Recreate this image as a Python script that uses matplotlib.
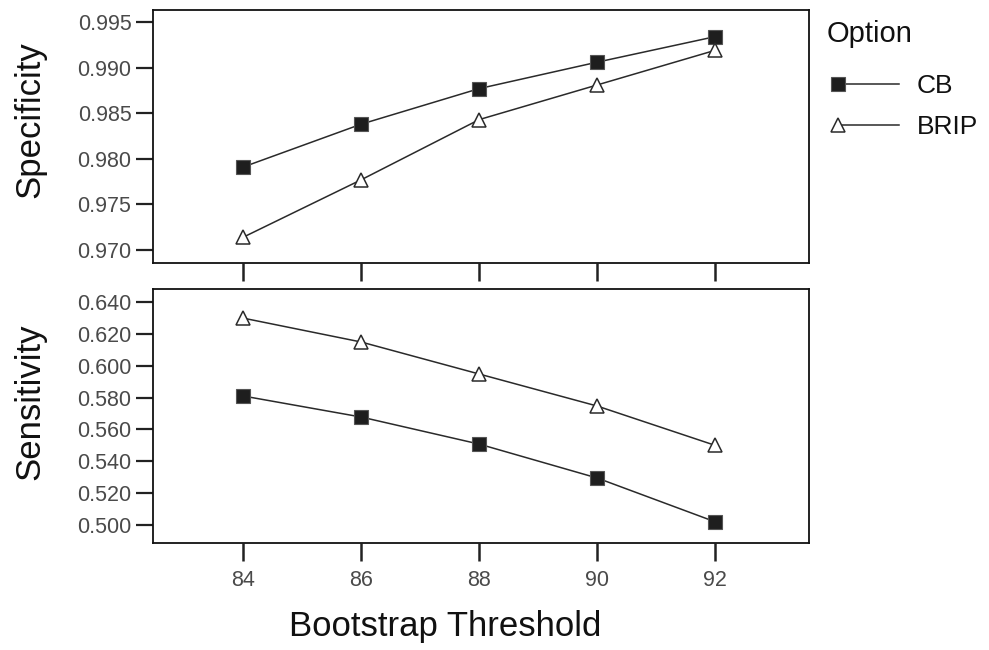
import matplotlib
matplotlib.use("Agg")
import matplotlib.pyplot as plt
from matplotlib.legend_handler import HandlerLine2D

# Bootstrap threshold levels
thresholds = [84, 86, 88, 90, 92]

# Specificity per option
spec_cb = [0.9791, 0.9838, 0.9877, 0.9906, 0.9934]
spec_brip = [0.9714, 0.9777, 0.9843, 0.9881, 0.9919]

# Sensitivity per option
sens_cb = [0.5810, 0.5678, 0.5508, 0.5295, 0.5020]
sens_brip = [0.6299, 0.6149, 0.5948, 0.5747, 0.5500]

spec_ticks = [0.970, 0.975, 0.980, 0.985, 0.990, 0.995]
sens_ticks = [0.500, 0.520, 0.540, 0.560, 0.580, 0.600, 0.620, 0.640]

FONT = "Liberation Sans"
LINE_C = "#2a2a2a"
TICK_C = "#4a4a4a"

plt.rcParams["font.family"] = [FONT, "DejaVu Sans"]

fig = plt.figure(figsize=(9.89, 6.5), dpi=100)
ax_top = fig.add_axes([0.1547, 0.5954, 0.6633, 0.3892])
ax_bot = fig.add_axes([0.1547, 0.1646, 0.6633, 0.3908])

cb_style = dict(color=LINE_C, lw=1.1, marker="s", ms=10,
                markerfacecolor="#1e1e1e", markeredgecolor="#555555", mew=0.8)
brip_style = dict(color=LINE_C, lw=1.1, marker="^", ms=10,
                  markerfacecolor="white", markeredgecolor="#2a2a2a", mew=1.1)

l_cb, = ax_top.plot(thresholds, spec_cb, label="CB", **cb_style)
l_brip, = ax_top.plot(thresholds, spec_brip, label="BRIP", **brip_style)
ax_bot.plot(thresholds, sens_cb, **cb_style)
ax_bot.plot(thresholds, sens_brip, **brip_style)

for ax in (ax_top, ax_bot):
    ax.set_xlim(82.47, 93.59)
    ax.set_xticks(thresholds)
    for s in ax.spines.values():
        s.set_linewidth(1.3)
        s.set_color("#111111")
    ax.tick_params(axis="y", direction="out", length=12.5, width=1.6,
                   color="#222222", pad=3, labelsize=15.5, labelcolor=TICK_C)
    ax.tick_params(axis="x", direction="out", length=13, width=1.8,
                   color="#222222", pad=6.5, labelsize=15.5, labelcolor=TICK_C)

ax_top.set_ylim(0.96857, 0.99632)
ax_top.set_yticks(spec_ticks)
ax_top.set_yticklabels([f"{t:.3f}" for t in spec_ticks])
ax_top.tick_params(axis="x", labelbottom=False)

ax_bot.set_ylim(0.4887, 0.6482)
ax_bot.set_yticks(sens_ticks)
ax_bot.set_yticklabels([f"{t:.3f}" for t in sens_ticks])
ax_bot.set_xticklabels([str(t) for t in thresholds])

ax_top.set_ylabel("Specificity", fontsize=25, color="#111111")
ax_top.yaxis.set_label_coords(-0.162, 0.565)
ax_bot.set_ylabel("Sensitivity", fontsize=25, color="#111111")
ax_bot.yaxis.set_label_coords(-0.162, 0.555)
ax_bot.set_xlabel("Bootstrap Threshold", fontsize=25, color="#111111")
ax_bot.xaxis.set_label_coords(0.445, -0.264)


class LeftMarkerHandler(HandlerLine2D):
    """Draws the legend marker at the left end of the sample line."""

    def create_artists(self, legend, orig_handle, xdescent, ydescent,
                       width, height, fontsize, trans):
        artists = super().create_artists(legend, orig_handle, xdescent,
                                         ydescent, width, height, fontsize, trans)
        for a in artists:
            a.set_markevery([0])
        return artists


fig.text(827 / 989, 1 - 42 / 650, "Option", fontsize=21, color="#111111",
         ha="left", va="baseline")

leg = fig.legend(handles=[l_cb, l_brip], loc="upper left",
                 bbox_to_anchor=(838 / 989, 1 - 74 / 650),
                 bbox_transform=fig.transFigure, frameon=False,
                 fontsize=19, handlelength=2.3, handletextpad=0.68,
                 labelspacing=0.65, borderaxespad=0.0, borderpad=0.0,
                 handler_map={l_cb: LeftMarkerHandler(numpoints=1),
                              l_brip: LeftMarkerHandler(numpoints=1)})
for t in leg.get_texts():
    t.set_color("#111111")

fig.savefig("out.png", dpi=100, facecolor="white")
